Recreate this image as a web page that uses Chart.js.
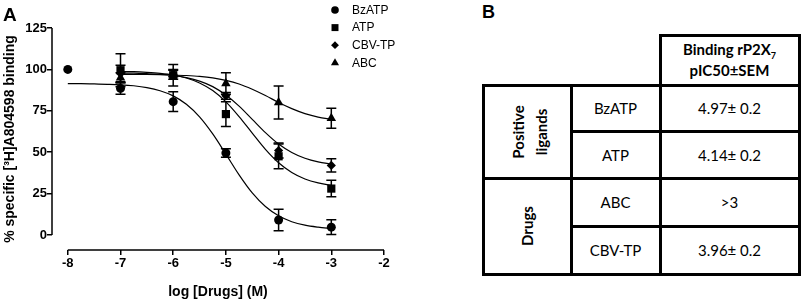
<!DOCTYPE html>
<html>
<head>
<meta charset="utf-8">
<script src="https://cdn.jsdelivr.net/npm/chart.js@4.4.0/dist/chart.umd.min.js"></script>
<style>
  body { margin: 0; background: #fff; }
  #page { position: relative; width: 803px; height: 302px; overflow: hidden; }
  #chartA { position: absolute; left: 0; top: 0; }
  .panel { position: absolute; font-family: Arial, "Liberation Sans", sans-serif; font-weight: bold; line-height: 1; }
  .cell { position: absolute; box-sizing: border-box; border: 3px solid #000; display: flex;
          align-items: center; justify-content: center; text-align: center;
          font-family: Lato, "Open Sans", sans-serif; font-size: 15px; color: #000; }
  .cell.hd { font-weight: bold; line-height: 21px; flex-direction: column; }
  .vline { position: absolute; left: 50%; top: 50%; white-space: nowrap; font-weight: bold; line-height: 18px; }
</style>
</head>
<body>
<div id="page">
  <canvas id="chartA" width="400" height="302"></canvas>
  <div class="panel" style="left:3px; top:4.5px; font-size:19px;">A</div>
  <div class="panel" style="left:482px; top:2.5px; font-size:18px;">B</div>
  <div id="tableB"></div>
</div>
<script>
// doses (log M)
const doseAll = [-8, -7, -6, -5, -4, -3];
const doseDrug = [-7, -6, -5, -4, -3];
const seriesNames = ['BzATP', 'ATP', 'CBV-TP', 'ABC'];

// measured points, % specific binding, with SEM
const bzatpMean = [100, 88.5, 80.5, 49.5, 9, 4.7];
const bzatpSem = [0, 3.5, 6, 2.5, 6.5, 4.5];
const atpMean = [99.5, 96.5, 73, 47.5, 28];
const atpSem = [10, 6.5, 7.5, 7.5, 5];
const cbvMean = [97.5, 97, 84, 51, 42];
const cbvSem = [5, 3, 2, 4.5, 4];
const abcMean = [95, 97.5, 91.5, 80, 70.5];
const abcSem = [3, 2, 6.5, 10, 6];

// fitted curves
const fitXLong = [-8, -7.75, -7.5, -7.25, -7, -6.75, -6.5, -6.25, -6, -5.75, -5.5, -5.25, -5, -4.75, -4.5, -4.25, -4, -3.75, -3.5, -3.25, -3];
const fitXShort = [-7, -6.75, -6.5, -6.25, -6, -5.75, -5.5, -5.25, -5, -4.75, -4.5, -4.25, -4, -3.75, -3.5, -3.25, -3];
const bzatpFit = [91.4, 91.4, 91.2, 91.0, 90.7, 90.1, 89.0, 87.1, 84.0, 78.9, 71.3, 61.0, 48.8, 36.3, 25.4, 17.2, 11.6, 8.0, 5.9, 4.7, 3.9];
const atpFit = [98.7, 98.6, 98.2, 97.6, 96.6, 94.8, 91.8, 87.2, 80.4, 71.5, 61.5, 51.7, 43.6, 37.7, 33.8, 31.4, 29.9];
const cbvFit = [97.8, 97.7, 97.4, 97.0, 96.3, 95.0, 92.9, 89.6, 84.5, 77.8, 69.8, 61.8, 54.9, 49.8, 46.3, 44.1, 42.8];
const abcFit = [97.0, 96.9, 96.9, 96.8, 96.6, 96.3, 95.8, 94.9, 93.4, 91.2, 88.0, 84.2, 80.0, 76.3, 73.3, 71.2, 69.9];

const xTicks = [-8, -7, -6, -5, -4, -3, -2];
const yTicks = [0, 25, 50, 75, 100, 125];

// table B
const tableNames = ['BzATP', 'ATP', 'ABC', 'CBV-TP'];
const tableValues = ['4.97\u00b1 0.2', '4.14\u00b1 0.2', '>3', '3.96\u00b1 0.2'];
const tableGroups = [['Positive', 'ligands'], ['Drugs']];

function pts(xs, ys) {
    return xs.map((x, i) => ({x: x, y: ys[i]}));
}

function fitSet(xs, ys) {
    return {
        data: pts(xs, ys),
        borderColor: '#000',
        borderWidth: 1.2,
        pointRadius: 0,
        cubicInterpolationMode: 'monotone',
        fill: false,
        clip: false
    };
}

function pointSet(label, xs, ys, sem, style, r) {
    return {
        label: label,
        data: pts(xs, ys),
        sem: sem,
        showLine: false,
        pointStyle: style,
        pointRadius: r,
        pointHoverRadius: r,
        backgroundColor: '#000',
        borderColor: '#000',
        borderWidth: 0,
        clip: false
    };
}

const markers = [['circle', 4.5], ['rect', 5.8], ['rectRot', 4.6], ['triangle', 5.5]];

// error bars through the scales
const errorBars = {
    id: 'errorBars',
    afterDatasetsDraw(chart) {
        const ctx = chart.ctx;
        const xs = chart.scales.x, ys = chart.scales.y;
        ctx.save();
        ctx.strokeStyle = '#000';
        ctx.lineWidth = 1.5;
        chart.data.datasets.forEach(ds => {
            if (!ds.sem) return;
            ds.data.forEach((p, i) => {
                const e = ds.sem[i];
                if (!e) return;
                const px = xs.getPixelForValue(p.x);
                const top = ys.getPixelForValue(p.y + e);
                const bot = ys.getPixelForValue(p.y - e);
                ctx.beginPath();
                ctx.moveTo(px, top); ctx.lineTo(px, bot);
                ctx.moveTo(px - 5, top); ctx.lineTo(px + 5, top);
                ctx.moveTo(px - 5, bot); ctx.lineTo(px + 5, bot);
                ctx.stroke();
            });
        });
        ctx.restore();
    }
};

// detached prism-style axis lines
const axisLines = {
    id: 'axisLines',
    afterDraw(chart) {
        const ctx = chart.ctx;
        const xs = chart.scales.x, ys = chart.scales.y;
        const a = chart.chartArea;
        ctx.save();
        ctx.strokeStyle = '#000';
        ctx.lineWidth = 1.5;
        ctx.beginPath();
        ctx.moveTo(a.left, ys.getPixelForValue(yTicks[0]));
        ctx.lineTo(a.left, ys.getPixelForValue(yTicks[yTicks.length - 1]));
        ctx.moveTo(xs.getPixelForValue(xTicks[0]), a.bottom);
        ctx.lineTo(xs.getPixelForValue(xTicks[xTicks.length - 1]), a.bottom);
        ctx.stroke();
        ctx.restore();
    }
};

function drawMarker(ctx, style, r, x, y) {
    ctx.beginPath();
    if (style === 'circle') {
        ctx.arc(x, y, r, 0, Math.PI * 2);
    } else if (style === 'rect') {
        const s = r * Math.SQRT1_2;
        ctx.rect(x - s, y - s, 2 * s, 2 * s);
    } else if (style === 'rectRot') {
        ctx.moveTo(x, y - r); ctx.lineTo(x + r, y); ctx.lineTo(x, y + r); ctx.lineTo(x - r, y);
    } else {
        const h = r * 1.5, w = r * Math.sqrt(3);
        ctx.moveTo(x, y - r); ctx.lineTo(x + w / 2, y + h - r); ctx.lineTo(x - w / 2, y + h - r);
    }
    ctx.closePath();
    ctx.fill();
}

const cornerLegend = {
    id: 'cornerLegend',
    afterDraw(chart) {
        const ctx = chart.ctx;
        ctx.save();
        ctx.fillStyle = '#000';
        ctx.font = '12px Arial, "Liberation Sans", sans-serif';
        ctx.textBaseline = 'middle';
        seriesNames.forEach((name, i) => {
            const y = 10 + i * 17.6;
            drawMarker(ctx, markers[i][0], markers[i][1] * 0.85, 335, y);
            ctx.fillText(name, 352, y + 0.5);
        });
        ctx.restore();
    }
};

const tickFont = {family: 'Arial, "Liberation Sans", sans-serif', size: 13, weight: 'bold'};
const titleFont = {family: 'Arial, "Liberation Sans", sans-serif', size: 14, weight: 'bold'};

new Chart(document.getElementById('chartA'), {
    type: 'line',
    data: {
        datasets: [
            fitSet(fitXLong, bzatpFit),
            fitSet(fitXShort, atpFit),
            fitSet(fitXShort, cbvFit),
            fitSet(fitXShort, abcFit),
            pointSet(seriesNames[0], doseAll, bzatpMean, bzatpSem, markers[0][0], markers[0][1]),
            pointSet(seriesNames[1], doseDrug, atpMean, atpSem, markers[1][0], markers[1][1]),
            pointSet(seriesNames[2], doseDrug, cbvMean, cbvSem, markers[2][0], markers[2][1]),
            pointSet(seriesNames[3], doseDrug, abcMean, abcSem, markers[3][0], markers[3][1])
        ]
    },
    options: {
        responsive: false,
        animation: false,
        devicePixelRatio: 1,
        layout: {padding: {left: 0, top: 28, right: 16, bottom: 0}},
        plugins: {legend: {display: false}, tooltip: {enabled: false}},
        scales: {
            x: {
                type: 'linear',
                min: -8.3,
                max: -2,
                afterBuildTicks: s => { s.ticks = xTicks.map(v => ({value: v})); },
                afterFit: s => { s.height = 52; },
                border: {display: false},
                grid: {drawOnChartArea: false, drawTicks: true, tickLength: 5, color: '#000', lineWidth: 1.5},
                ticks: {color: '#000', font: tickFont, padding: 1, maxRotation: 0},
                title: {display: true, text: 'log [Drugs] (M)', color: '#000', font: titleFont, padding: {top: 0, bottom: 1}}
            },
            y: {
                type: 'linear',
                min: -9.1,
                max: 125,
                afterBuildTicks: s => { s.ticks = yTicks.map(v => ({value: v})); },
                afterFit: s => { s.width = 52; },
                border: {display: false},
                grid: {drawOnChartArea: false, drawTicks: true, tickLength: 5, color: '#000', lineWidth: 1.5},
                ticks: {color: '#000', font: tickFont, padding: 0},
                title: {display: true, text: '% specific [\u00b3H]A804598 binding', color: '#000', font: titleFont, padding: {top: 2, bottom: 0}}
            }
        }
    },
    plugins: [errorBars, axisLines, cornerLegend]
});

// table B as bordered boxes
const colX = [483, 571, 660, 799];
const rowY = [35, 85, 131, 178, 226, 274];
const tb = document.getElementById('tableB');

function addCell(x0, x1, y0, y1, html, cls) {
    const d = document.createElement('div');
    d.className = 'cell' + (cls ? ' ' + cls : '');
    d.style.left = (x0 - 1.5) + 'px';
    d.style.top = (y0 - 1.5) + 'px';
    d.style.width = (x1 - x0 + 3) + 'px';
    d.style.height = (y1 - y0 + 3) + 'px';
    d.innerHTML = html;
    tb.appendChild(d);
    return d;
}

// rotated group labels, one line each, spaced 23px apart
function groupCell(x0, x1, y0, y1, lines, shift) {
    const d = addCell(x0, x1, y0, y1, '');
    lines.forEach((t, i) => {
        const off = shift + (i - (lines.length - 1) / 2) * 23;
        const s = document.createElement('div');
        s.className = 'vline';
        s.textContent = t;
        s.style.transform = 'translate(-50%, -50%) translateX(' + off + 'px) rotate(-90deg)';
        d.appendChild(s);
    });
}

addCell(colX[2], colX[3], rowY[0], rowY[1], '<div>Binding rP2X<span style="position:relative;top:4px;font-size:9px;line-height:0">7</span></div><div>pIC50\u00b1SEM</div>', 'hd');
groupCell(colX[0], colX[1], rowY[1], rowY[3], tableGroups[0], 2);
groupCell(colX[0], colX[1], rowY[3], rowY[5], tableGroups[1], 0);
tableNames.forEach((n, i) => {
    addCell(colX[1], colX[2], rowY[i + 1], rowY[i + 2], n);
    addCell(colX[2], colX[3], rowY[i + 1], rowY[i + 2], tableValues[i].replace('>', '&gt;'));
});
</script>
</body>
</html>
